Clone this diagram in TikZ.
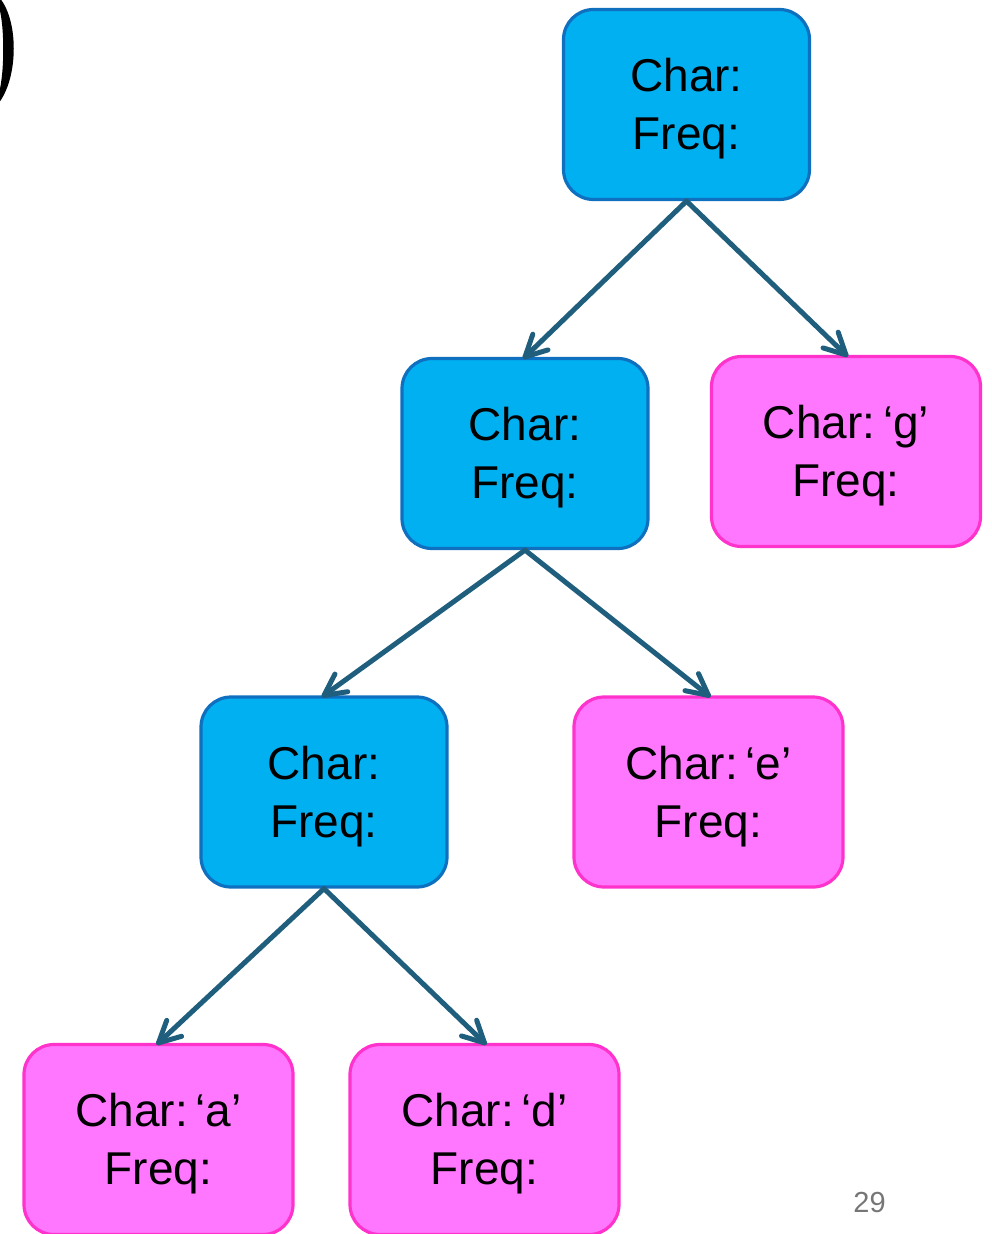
\documentclass[tikz,border=0pt]{standalone}
\usepackage{fontspec}
\setmainfont{Liberation Sans}
\usetikzlibrary{calc}
\definecolor{innerfill}{RGB}{0,176,240}
\definecolor{innerline}{RGB}{16,112,192}
\definecolor{leaffill}{RGB}{255,119,255}
\definecolor{leafline}{RGB}{255,51,204}
\definecolor{linkcol}{RGB}{31,94,125}
\definecolor{pagenum}{RGB}{118,118,118}
% first line strut that lowers the two text lines inside a box
\newcommand{\firstline}{\rule{0pt}{42.5pt}}
\newcommand{\qsp}{\hspace{0.17em}}
% parent-to-child connector with an open barbed head
\newcommand{\treelink}[2]{%
  \draw[link] (#1.south) -- (#2.north);
  \draw[link] ($(#2.north)!24pt!27:(#1.south)$) -- (#2.north)
    -- ($(#2.north)!24pt!-27:(#1.south)$);}
\begin{document}
\begin{tikzpicture}[x=1pt,y=-1pt,
  treenode/.style={rounded corners=30pt, line width=3.2pt, align=center,
    font=\fontsize{46}{58}\selectfont, inner sep=0pt},
  innernode/.style={treenode, fill=innerfill, draw=innerline,
    minimum width=246pt, minimum height=190pt},
  leafnode/.style={treenode, fill=leaffill, draw=leafline,
    minimum width=269pt, minimum height=190pt},
  link/.style={draw=linkcol, line width=5pt, line cap=round, line join=round}]
\useasboundingbox (0,0) rectangle (992,1234);
\clip (0,0) rectangle (992,1234);

% closing bracket at the top left edge
\fill[black] (-2,-4) .. controls (19,18) and (19,78) .. (-2,104)
  -- (-2,96) .. controls (5,76) and (5,22) .. (-2,4) -- cycle;

% tree nodes
\node[innernode] (root) at (686.5,104.5) {\firstline Char:\\Freq:};
\node[innernode] (n2)   at (525,453.5)   {\firstline Char:\\Freq:};
\node[leafnode]  (g)    at (846,451.5)   {\firstline Char:\qsp‘g’\\Freq:};
\node[innernode] (n3)   at (324,792)     {\firstline Char:\\Freq:};
\node[leafnode]  (e)    at (708.5,792)   {\firstline Char:\qsp‘e’\\Freq:};
\node[leafnode]  (a)    at (158.5,1139.5) {\firstline Char:\qsp‘a’\\Freq:};
\node[leafnode]  (d)    at (484.5,1139.5) {\firstline Char:\qsp‘d’\\Freq:};

% connectors
\treelink{root}{n2}
\treelink{root}{g}
\treelink{n2}{n3}
\treelink{n2}{e}
\treelink{n3}{a}
\treelink{n3}{d}

% page number
\node[font=\fontsize{29}{34}\selectfont, text=pagenum] (pg) at (869.5,1202.5) {29};
\end{tikzpicture}
\end{document}
